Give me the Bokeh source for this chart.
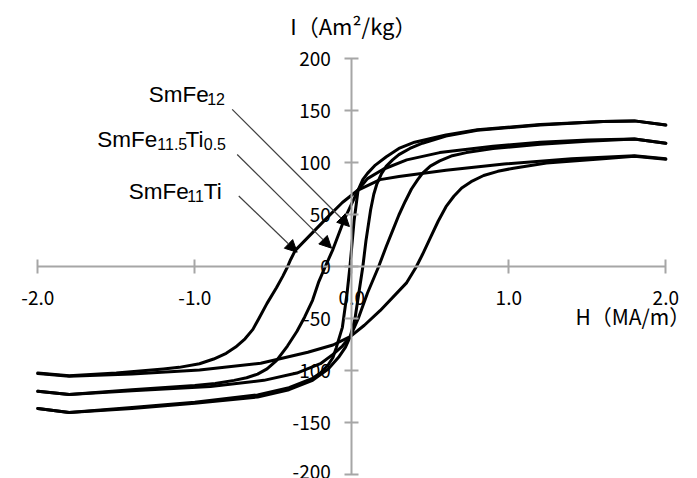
from bokeh.plotting import figure
from bokeh.models import (LinearAxis, FixedTicker, Range1d, Label, Arrow,
                          NormalHead, ColumnDataSource)
from bokeh.embed import file_html
from bokeh.resources import INLINE

# ---------------- data ----------------
# SmFe12 (narrow loop)
smfe12_desc_H = [2.0, 1.8, 1.6, 1.2, 0.8, 0.6, 0.4, 0.3, 0.22, 0.15, 0.1, 0.07, 0.04,
                 0.015, 0.0, -0.012, -0.03, -0.06, -0.1, -0.12, -0.15, -0.2, -0.25,
                 -0.4, -0.6, -1.0, -1.4, -1.8, -2.0]
smfe12_desc_I = [136.5, 140.5, 140.0, 137.0, 132.0, 127.0, 120.0, 114.0, 106.0, 98.0,
                 90.0, 84.0, 74.0, 45.0, 20.0, 0.0, -25.0, -58.0, -78.0, -87.0, -94.0,
                 -102.0, -107.0, -116.0, -123.0, -130.0, -135.0, -140.0, -136.0]
smfe12_asc_H = [-2.0, -1.8, -1.4, -1.0, -0.6, -0.4, -0.25, -0.15, -0.08, -0.04, -0.01,
                0.02, 0.045, 0.07, 0.09, 0.12, 0.14, 0.16, 0.19, 0.22, 0.26, 0.3, 0.37,
                0.45, 0.6, 0.8, 1.2, 1.6, 1.8, 2.0]
smfe12_asc_I = [-136.0, -140.0, -136.0, -131.0, -125.0, -118.0, -109.0, -98.0, -86.0,
                -77.0, -67.0, -50.0, -25.0, 0.0, 25.0, 55.0, 70.0, 80.0, 90.0, 97.0,
                103.0, 108.0, 114.0, 119.0, 126.0, 131.5, 136.5, 140.0, 140.5, 136.5]

# SmFe11.5Ti0.5 (middle loop)
smfe115_desc_H = [2.0, 1.8, 1.5, 1.2, 0.9, 0.56, 0.35, 0.2, 0.1, 0.04, -0.05, -0.12,
                  -0.17, -0.21, -0.25, -0.3, -0.35, -0.41, -0.48, -0.54, -0.6, -0.67,
                  -0.75, -0.87, -1.0, -1.4, -1.8, -2.0]
smfe115_desc_I = [119.0, 123.0, 122.0, 120.0, 116.0, 110.0, 103.0, 94.0, 85.0, 74.0,
                  45.0, 17.0, 0.0, -14.0, -32.0, -48.0, -62.0, -76.0, -90.0, -98.0,
                  -103.0, -106.5, -109.0, -112.0, -114.0, -118.0, -122.5, -119.5]
smfe115_asc_H = [-2.0, -1.8, -1.4, -0.9, -0.56, -0.35, -0.2, -0.12, -0.06, -0.01, 0.04,
                 0.1, 0.17, 0.22, 0.26, 0.3, 0.34, 0.38, 0.42, 0.45, 0.5, 0.56, 0.64,
                 0.73, 0.9, 1.2, 1.5, 1.8, 2.0]
smfe115_asc_I = [-119.5, -122.5, -119.0, -115.0, -109.0, -102.0, -93.0, -84.0, -76.0,
                 -67.0, -50.0, -25.0, 0.0, 20.0, 35.0, 50.0, 63.0, 75.0, 84.0, 90.0,
                 97.0, 102.0, 107.0, 110.0, 114.0, 118.0, 121.0, 123.0, 119.0]

# SmFe11Ti (wide loop)
smfe11_desc_H = [2.0, 1.8, 1.4, 0.97, 0.6, 0.3, 0.18, 0.04, -0.06, -0.16, -0.36, -0.39,
                 -0.41, -0.44, -0.48, -0.54, -0.59, -0.63, -0.68, -0.74, -0.8, -0.88,
                 -0.97, -1.1, -1.2, -1.5, -1.8, -2.0]
smfe11_desc_I = [104.0, 107.0, 104.0, 99.0, 93.0, 87.0, 84.0, 74.0, 62.0, 47.0, 16.0,
                 7.0, 0.0, -9.0, -20.0, -35.0, -49.0, -60.0, -69.0, -77.0, -83.0, -88.5,
                 -93.0, -96.5, -98.0, -102.0, -104.5, -102.0]
smfe11_asc_H = [-2.0, -1.8, -1.4, -0.97, -0.58, -0.28, -0.12, -0.01, 0.08, 0.18, 0.35,
                0.41, 0.45, 0.5, 0.55, 0.6, 0.65, 0.7, 0.76, 0.84, 0.93, 1.03, 1.24, 1.6,
                1.8, 2.0]
smfe11_asc_I = [-102.5, -105.0, -103.0, -99.0, -92.5, -82.0, -75.0, -67.0, -56.0, -42.0,
                -15.0, 0.0, 12.0, 28.0, 44.0, 58.0, 68.0, 76.0, 82.0, 88.0, 92.0, 95.0,
                100.0, 104.0, 106.5, 103.5]

x_ticks = [-2.0, -1.0, 0.0, 1.0, 2.0]
x_tick_labels = ["-2.0", "-1.0", "0.0", "1.0", "2.0"]
y_ticks = [-200, -150, -100, -50, 0, 50, 100, 150, 200]
y_tick_labels = ["-200", "-150", "-100", "-50", "0", "50", "100", "150", "200"]

x_title = "H（MA/m）"
y_title = "I（Am²/kg）"

# ---------------- figure ----------------
# frame covers the whole canvas; axes are drawn crossing at the origin
p = figure(width=697, height=478, x_range=Range1d(-2.2376, 2.2019),
           y_range=Range1d(-203.37, 256.25),
           output_backend="svg", toolbar_location=None,
           x_axis_location=None, y_axis_location=None,
           min_border_left=0, min_border_right=0, min_border_top=0,
           min_border_bottom=0)
p.outline_line_color = None
p.grid.grid_line_color = None
p.background_fill_color = "white"
p.border_fill_color = "white"

AX = "#a6a6a6"
TICK_FONT = "Noto Sans CJK JP"

xax = LinearAxis(fixed_location=0, bounds=(x_ticks[0], x_ticks[-1]),
                 ticker=FixedTicker(ticks=x_ticks, minor_ticks=[]),
                 major_label_overrides={t: s for t, s in zip(x_ticks, x_tick_labels)})
yax = LinearAxis(fixed_location=0, bounds=(y_ticks[0], y_ticks[-1]),
                 ticker=FixedTicker(ticks=y_ticks, minor_ticks=[]),
                 major_label_overrides={t: s for t, s in zip(y_ticks, y_tick_labels)})
for ax in (xax, yax):
    ax.axis_line_color = AX
    ax.axis_line_width = 2
    ax.major_tick_line_color = AX
    ax.major_tick_line_width = 2
    ax.major_tick_in = 7
    ax.major_tick_out = 7
    ax.minor_tick_in = 0
    ax.minor_tick_out = 0
    ax.major_label_text_font = TICK_FONT
    ax.major_label_text_font_size = "19px"
    ax.major_label_text_color = "black"
xax.major_label_standoff = 17
yax.major_label_standoff = 14
p.add_layout(xax, "below")
p.add_layout(yax, "left")

# ---------------- curves ----------------
src = ColumnDataSource(dict(
    xs=[smfe12_desc_H, smfe12_asc_H, smfe115_desc_H, smfe115_asc_H,
        smfe11_desc_H, smfe11_asc_H],
    ys=[smfe12_desc_I, smfe12_asc_I, smfe115_desc_I, smfe115_asc_I,
        smfe11_desc_I, smfe11_asc_I],
))
p.multi_line("xs", "ys", source=src, line_color="black", line_width=3,
             line_join="round", line_cap="round")

# ---------------- annotations ----------------
TITLE_FONT = "Noto Sans CJK JP"
p.add_layout(Label(x=0.01, y=232.6, text=y_title, text_align="center",
                   text_baseline="alphabetic", text_font=TITLE_FONT,
                   text_font_size="22px", text_color="black"))
p.add_layout(Label(x=1.79, y=-47.4, text=x_title, text_align="center",
                   text_baseline="alphabetic", text_font=TITLE_FONT,
                   text_font_size="21px", text_color="black"))

LAB_FONT = "Liberation Sans"
# (text, left x, baseline y, is_subscript)
label_pieces = [
    ("SmFe", -1.293, 166.0, False), ("12", -0.921, 161.2, True),
    ("SmFe", -1.622, 122.8, False), ("11.5", -1.239, 118.0, True),
    ("Ti", -1.059, 122.8, False), ("0.5", -0.943, 118.0, True),
    ("SmFe", -1.420, 73.0, False), ("11", -1.048, 68.2, True),
    ("Ti", -0.943, 73.0, False),
]
for txt, lx, ly, sub in label_pieces:
    p.add_layout(Label(x=lx, y=ly, text=txt, text_align="left",
                       text_baseline="alphabetic", text_font=LAB_FONT,
                       text_font_size="16px" if sub else "22.5px",
                       text_color="black"))

# leader arrows: (x_start, y_start, x_end, y_end)
arrows = [
    (-0.762, 151.6, -0.015, 38.9),
    (-0.730, 108.2, -0.129, 18.1),
    (-0.720, 68.3, -0.348, 14.2),
]
for xs_, ys_, xe_, ye_ in arrows:
    p.add_layout(Arrow(end=NormalHead(size=12, fill_color="black", line_color="black",
                                      line_width=1),
                       x_start=xs_, y_start=ys_, x_end=xe_, y_end=ye_,
                       line_color="#404040", line_width=1.2))

open("out.html", "w").write(file_html(p, INLINE))
